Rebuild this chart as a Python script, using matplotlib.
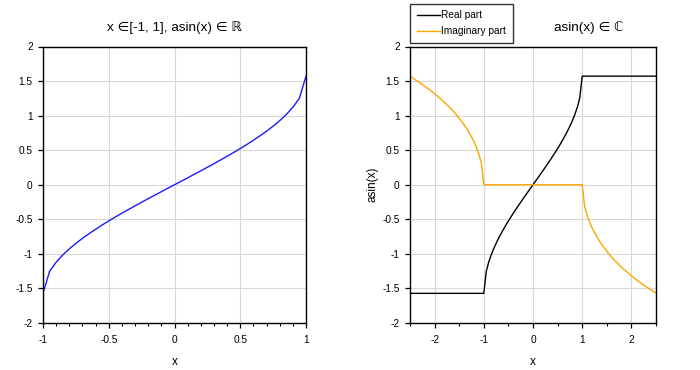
import matplotlib
matplotlib.use("Agg")
import matplotlib.pyplot as plt
from matplotlib.ticker import MultipleLocator, FuncFormatter

plt.rcParams['font.family'] = ['Liberation Sans', 'DejaVu Sans']
plt.rcParams['axes.unicode_minus'] = False

# ---- Left panel data: real asin on [-1, 1] ----
x_left = [-1.00, -0.95, -0.90, -0.85, -0.80, -0.75, -0.70, -0.65, -0.60, -0.55,
          -0.50, -0.45, -0.40, -0.35, -0.30, -0.25, -0.20, -0.15, -0.10, -0.05,
          0.00, 0.05, 0.10, 0.15, 0.20, 0.25, 0.30, 0.35, 0.40, 0.45,
          0.50, 0.55, 0.60, 0.65, 0.70, 0.75, 0.80, 0.85, 0.90, 0.95, 1.00]
y_left = [-1.571, -1.253, -1.120, -1.016, -0.927, -0.848, -0.775, -0.708, -0.644, -0.582,
          -0.524, -0.467, -0.412, -0.358, -0.305, -0.253, -0.201, -0.151, -0.100, -0.050,
          0.000, 0.050, 0.100, 0.151, 0.201, 0.253, 0.305, 0.358, 0.412, 0.467,
          0.524, 0.582, 0.644, 0.708, 0.775, 0.848, 0.927, 1.016, 1.120, 1.253, 1.571]

# ---- Right panel data: complex asin on [-2.5, 2.5] ----
x_right = [-2.50, -2.45, -2.40, -2.35, -2.30, -2.25, -2.20, -2.15, -2.10, -2.05,
           -2.00, -1.95, -1.90, -1.85, -1.80, -1.75, -1.70, -1.65, -1.60, -1.55,
           -1.50, -1.45, -1.40, -1.35, -1.30, -1.25, -1.20, -1.15, -1.10, -1.05,
           -1.00, -0.95, -0.90, -0.85, -0.80, -0.75, -0.70, -0.65, -0.60, -0.55,
           -0.50, -0.45, -0.40, -0.35, -0.30, -0.25, -0.20, -0.15, -0.10, -0.05,
           0.00, 0.05, 0.10, 0.15, 0.20, 0.25, 0.30, 0.35, 0.40, 0.45,
           0.50, 0.55, 0.60, 0.65, 0.70, 0.75, 0.80, 0.85, 0.90, 0.95,
           1.00, 1.05, 1.10, 1.15, 1.20, 1.25, 1.30, 1.35, 1.40, 1.45,
           1.50, 1.55, 1.60, 1.65, 1.70, 1.75, 1.80, 1.85, 1.90, 1.95,
           2.00, 2.05, 2.10, 2.15, 2.20, 2.25, 2.30, 2.35, 2.40, 2.45, 2.50]
real_part = ([-1.571] * 31 +
             [-1.253, -1.120, -1.016, -0.927, -0.848, -0.775, -0.708, -0.644, -0.582,
              -0.524, -0.467, -0.412, -0.358, -0.305, -0.253, -0.201, -0.151, -0.100, -0.050,
              0.000, 0.050, 0.100, 0.151, 0.201, 0.253, 0.305, 0.358, 0.412, 0.467,
              0.524, 0.582, 0.644, 0.708, 0.775, 0.848, 0.927, 1.016, 1.120, 1.253] +
             [1.571] * 31)
imag_part = ([1.567, 1.545, 1.522, 1.499, 1.475, 1.451, 1.425, 1.400, 1.373, 1.345,
              1.317, 1.288, 1.257, 1.226, 1.193, 1.159, 1.123, 1.086, 1.047, 1.006,
              0.962, 0.916, 0.867, 0.814, 0.756, 0.693, 0.622, 0.541, 0.444, 0.316] +
             [0.0] * 41 +
             [-0.316, -0.444, -0.541, -0.622, -0.693, -0.756, -0.814, -0.867, -0.916,
              -0.962, -1.006, -1.047, -1.086, -1.123, -1.159, -1.193, -1.226, -1.257, -1.288,
              -1.317, -1.345, -1.373, -1.400, -1.425, -1.451, -1.475, -1.499, -1.522, -1.545,
              -1.567])

title_left = "x \u2208[-1, 1], asin(x) \u2208 \u211d"
title_right = "asin(x) \u2208 \u2102"

W, H = 700, 370
fig = plt.figure(figsize=(7.0, 3.7), dpi=100)

def fx(px):
    return px / W

def fy(py):
    return 1 - py / H

ax1 = fig.add_axes([fx(43), fy(323), fx(306) - fx(43), fy(46.5) - fy(323)])
ax2 = fig.add_axes([fx(410), fy(323), fx(656) - fx(410), fy(46.5) - fy(323)])

fmt = FuncFormatter(lambda v, p: "%g" % round(v, 6))
tick_fs = 7.3
grid_c = '#d8d8d8'

for ax in (ax1, ax2):
    ax.set_ylim(-2, 2)
    ax.yaxis.set_major_locator(MultipleLocator(0.5))
    ax.yaxis.set_major_formatter(fmt)
    ax.xaxis.set_major_formatter(fmt)
    ax.grid(True, which='major', color=grid_c, linewidth=0.8)
    ax.set_axisbelow(True)
    for s in ax.spines.values():
        s.set_linewidth(1.0)
        s.set_color('black')
    ax.tick_params(which='major', direction='out', length=3.5, width=0.9,
                   labelsize=tick_fs, colors='black')
    ax.tick_params(axis='x', which='major', pad=5)
    ax.tick_params(axis='y', which='major', pad=4)
    ax.tick_params(which='minor', direction='out', length=2, width=0.8)
    ax.tick_params(axis='y', which='minor', left=False)
    ax.set_xlabel('x', fontsize=8.5, labelpad=8)

# Left panel
ax1.plot(x_left, y_left, color='#1a1aff', linewidth=1.0)
ax1.set_xlim(-1, 1)
ax1.xaxis.set_major_locator(MultipleLocator(0.5))
ax1.xaxis.set_minor_locator(MultipleLocator(0.1))
fig.text(fx(174.5), fy(28), title_left, ha='center', va='center', fontsize=9.7)

# Right panel
l1, = ax2.plot(x_right, real_part, color='black', linewidth=1.0, label='Real part')
l2, = ax2.plot(x_right, imag_part, color='#ffa500', linewidth=1.0, label='Imaginary part')
ax2.set_xlim(-2.5, 2.5)
ax2.xaxis.set_major_locator(MultipleLocator(1))
ax2.xaxis.set_minor_locator(MultipleLocator(0.5))
ax2.set_ylabel('asin(x)', fontsize=8.5, labelpad=3)
fig.text(fx(589), fy(28), title_right, ha='center', va='center', fontsize=9.7)

leg = fig.legend(handles=[l1, l2], loc='lower left',
                 bbox_to_anchor=(fx(410), fy(43)), borderaxespad=0,
                 fontsize=7.3, frameon=True, fancybox=False,
                 handlelength=2.3, handletextpad=0.15, borderpad=0.65,
                 labelspacing=0.6)
leg.get_frame().set_edgecolor('black')
leg.get_frame().set_linewidth(1.0)
leg.get_frame().set_facecolor('white')

fig.savefig('out.png', dpi=100)
